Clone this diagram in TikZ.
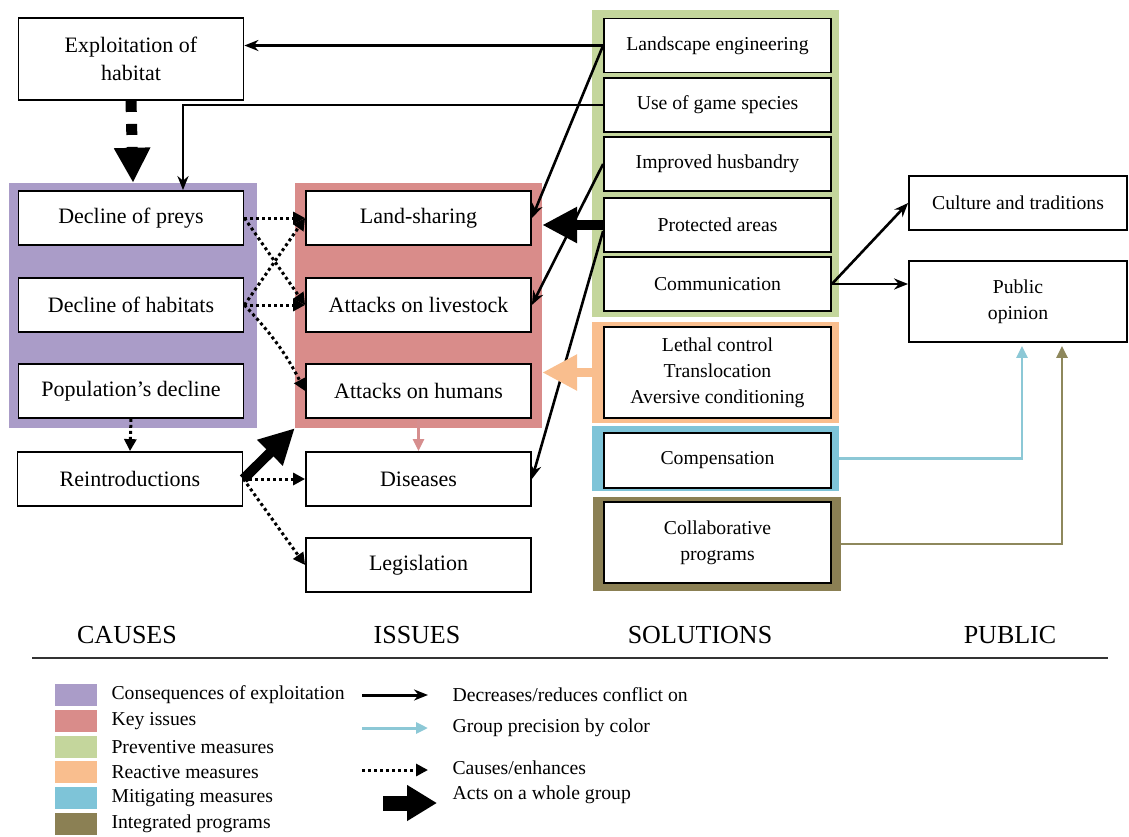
\documentclass[tikz,border=0pt]{standalone}
\usepackage{fontspec}
\setmainfont{Liberation Serif}
\usepackage{tikz}
\usetikzlibrary{arrows.meta, positioning}

\definecolor{cpurple}{RGB}{170,156,200}
\definecolor{cred}{RGB}{217,140,138}
\definecolor{cgreen}{RGB}{196,214,156}
\definecolor{corange}{RGB}{249,190,142}
\definecolor{cblue}{RGB}{126,196,216}
\definecolor{colive}{RGB}{139,128,84}
\definecolor{lblue}{RGB}{140,200,214}
\definecolor{lolive}{RGB}{142,136,92}
\definecolor{lpink}{RGB}{214,142,142}

\begin{document}
\begin{tikzpicture}[x=1pt, y=-1pt,
  box/.style={draw, line width=1.8pt, fill=white, minimum width=225pt,
              minimum height=54pt, align=center, inner sep=2pt,
              font=\fontsize{22}{28}\selectfont},
  sol/.style={box, minimum width=227pt, font=\fontsize{19.7}{26}\selectfont},
  grp/.style={draw=none, inner sep=0pt},
  arr/.style={-{Stealth[length=14pt,width=11pt]}, line width=2.6pt},
  cause/.style={-{Triangle[length=12pt,width=12pt]}, line width=3pt,
                dash pattern=on 3pt off 3pt},
  bigarr/.style={-{Triangle[length=35pt,width=34pt]}, line width=10pt},
  thin/.style={-{Triangle[length=12pt,width=11pt]}, line width=2.8pt},
  head/.style={font=\fontsize{26}{30}\selectfont},
  key/.style={anchor=west, font=\fontsize{19.7}{24}\selectfont}
]
  \useasboundingbox (0,0) rectangle (1129,836);

  % coloured groups
  \node[grp, fill=cpurple, minimum width=248pt, minimum height=245pt] (gcause) at (133,305.5) {};
  \node[grp, fill=cred,    minimum width=247pt, minimum height=245pt] (gissue) at (418.5,305.5) {};
  \node[grp, fill=cgreen,  minimum width=247pt, minimum height=307pt] (gprev)  at (715.5,163.5) {};
  \node[grp, fill=corange, minimum width=247pt, minimum height=101pt] (greact) at (715.5,372.5) {};
  \node[grp, fill=cblue,   minimum width=247pt, minimum height=65pt]  (gmitig) at (715.5,458.5) {};
  \node[grp, fill=colive,  minimum width=248pt, minimum height=94pt]  (gintegr) at (717,544) {};

  % causes
  \node[box, minimum height=82pt] (expl) at (131,59) {Exploitation of\\habitat};
  \node[box] (preys)    at (131,218) {Decline of preys};
  \node[box] (habitats) at (131,305) {Decline of habitats};
  \node[box] (popdecl)  at (131,391) {Population's decline};
  \node[box] (reintro)  at (130,479) {Reintroductions};

  % issues
  \node[box] (land)      at (418.5,218) {Land-sharing};
  \node[box] (livestock) at (418.5,305) {Attacks on livestock};
  \node[box] (humans)    at (418.5,391) {Attacks on humans};
  \node[box] (diseases)  at (418.5,479) {Diseases};
  \node[box] (legis)     at (418.5,565) {Legislation};

  % solutions
  \node[sol] (landsc) at (717.5,45.5) {Landscape engineering};
  \node[sol] (game)   at (717.5,105)  {Use of game species};
  \node[sol] (husb)   at (717.5,164)  {Improved husbandry};
  \node[sol] (prot)   at (717.5,225)  {Protected areas};
  \node[sol] (comm)   at (717.5,284)  {Communication};
  \node[sol, minimum height=91pt] (lethal) at (717.5,372.5)
       {Lethal control\\Translocation\\Aversive conditioning};
  \node[sol, minimum height=55pt] (comp)   at (717.5,460.5) {Compensation};
  \node[sol, minimum height=81pt] (collab) at (717.5,542.5) {Collaborative\\programs};

  % public
  \node[sol, minimum width=218pt] (culture) at (1018,203) {Culture and traditions};
  \node[sol, minimum width=218pt, minimum height=81pt] (public) at (1018,301.5) {Public\\opinion};

  % causes / enhances
  \draw[-{Triangle[length=35pt,width=34pt]}, line width=11pt, dash pattern=on 11pt off 12pt]
       (expl.south) -- (gcause.north);
  \draw[cause] (preys.east) -- (land.west);
  \draw[cause] (preys.east) -- (livestock.west);
  \draw[cause] (habitats.east) -- (land.west);
  \draw[cause] (habitats.east) -- (livestock.west);
  \draw[cause] (habitats.east) to[bend left=8] (humans.west);
  \draw[cause] (popdecl.south) -- (reintro.north);
  \draw[cause] (reintro.east) -- (diseases.west);
  \draw[cause] (reintro.east) -- (legis.west);
  \draw[bigarr] (reintro.east) -- (gissue.south west);
  \draw[thin, lpink] (humans.south) -- (diseases.north);

  % solutions acting on issues
  \draw[arr] (landsc.west) -- (landsc.west -| expl.east);
  \draw[arr] (landsc.west) -- (land.east);
  \draw[arr] (game.west) -| ([xshift=52pt]preys.north);
  \draw[arr] (husb.west) -- (livestock.east);
  \draw[bigarr] (prot.west) -- (prot.west -| gissue.east);
  \draw[arr] ([yshift=-6pt]prot.west) -- (diseases.east);
  \draw[bigarr, corange, line width=9pt] (greact.west) -- (gissue.east |- greact.west);
  \draw[arr] (comm.east) -- (culture.west);
  \draw[arr] (comm.east) -- (comm.east -| public.west);
  \draw[thin, lblue] (gmitig.east) -| ([xshift=4pt, yshift=-3pt]public.south);
  \draw[thin, lolive] (gintegr.east) -| ([xshift=44pt, yshift=-3pt]public.south);

  % column titles
  \node[head] (hcause) at (127,635)  {CAUSES};
  \node[head] (hissue) at (417,635)  {ISSUES};
  \node[head] (hsol)   at (700,635)  {SOLUTIONS};
  \node[head] (hpub)   at (1010,635) {PUBLIC};
  \coordinate (rulea) at (32,658);
  \coordinate (ruleb) at (1108,658);
  \draw[line width=2.2pt, black!80] (rulea) -- (ruleb);

  % legend: colours
  \foreach \c/\t [count=\i from 0] in {cpurple/Consequences of exploitation,
      cred/Key issues, cgreen/Preventive measures, corange/Reactive measures,
      cblue/Mitigating measures, colive/Integrated programs} {
    \fill[\c] (55,684+25.8*\i) rectangle (97,706+25.8*\i);
    \node[key] (lc\i) at (108,695+25.8*\i) {\t};
  }

  % legend: arrows
  \coordinate (k1a) at (362,695); \coordinate (k1b) at (428,695);
  \coordinate (k2a) at (362,728); \coordinate (k2b) at (428,728);
  \coordinate (k3a) at (362,770); \coordinate (k3b) at (428,770);
  \coordinate (k4a) at (383,803); \coordinate (k4b) at (437,803);
  \draw[arr, line width=3pt] (k1a) -- (k1b);
  \draw[thin, lblue, line width=3pt] (k2a) -- (k2b);
  \draw[cause] (k3a) -- (k3b);
  \draw[-{Triangle[length=30pt,width=34pt]}, line width=15pt] (k4a) -- (k4b);
  \node[key] (lk1) at (449,695) {Decreases/reduces conflict on};
  \node[key] (lk2) at (449,728) {Group precision by color};
  \node[key] (lk3) at (449,768) {Causes/enhances};
  \node[key] (lk4) at (449,795) {Acts on a whole group};
\end{tikzpicture}
\end{document}
